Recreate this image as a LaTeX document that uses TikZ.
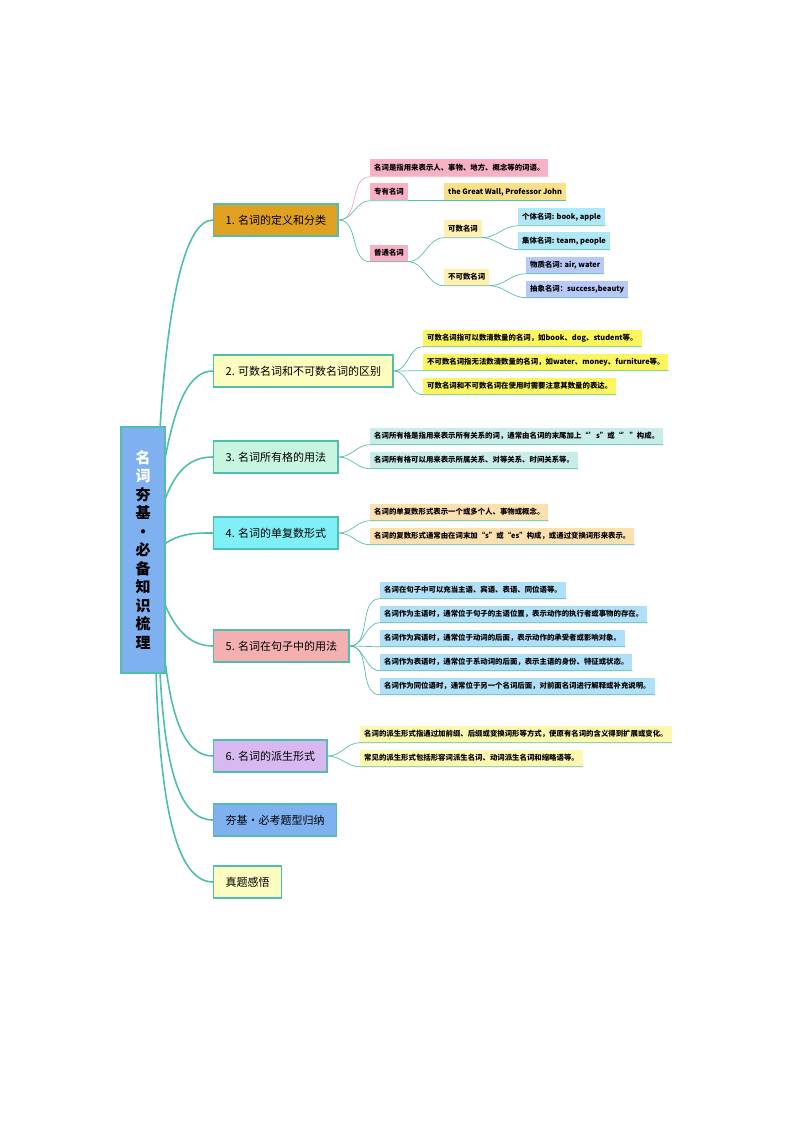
\documentclass[tikz,border=0pt]{standalone}
\usepackage{fontspec}
\setmainfont{Noto Sans CJK SC}
\begin{document}
\begin{tikzpicture}[x=1pt,y=-1pt,
 br/.style={line width=1.6pt, color={rgb,255:red,80;green,190;blue,175}},
 cn/.style={line width=0.7pt, color={rgb,255:red,90;green,190;blue,175}},
 pk/.style={line width=0.7pt, color={rgb,255:red,240;green,170;blue,190}},
 bn/.style={draw={rgb,255:red,80;green,190;blue,175}, line width=1.3pt, anchor=west, minimum height=32pt, inner xsep=12pt, font=\fontsize{11}{13}\selectfont},
 lf/.style={anchor=west, minimum height=17pt, inner xsep=4pt, inner ysep=1pt, font=\fontsize{7.4}{9}\selectfont\bfseries}]
\definecolor{c1}{RGB}{224,160,32}
\definecolor{c2}{RGB}{253,253,192}
\definecolor{c3}{RGB}{200,245,224}
\definecolor{c4}{RGB}{128,240,248}
\definecolor{c5}{RGB}{244,176,176}
\definecolor{c6}{RGB}{216,184,240}
\definecolor{c7}{RGB}{127,176,240}
\definecolor{lpink}{RGB}{246,178,196}
\definecolor{lgold}{RGB}{251,224,138}
\definecolor{lyel}{RGB}{255,240,176}
\definecolor{lblue}{RGB}{176,232,248}
\definecolor{lperi}{RGB}{184,200,248}
\definecolor{lyel2}{RGB}{251,245,96}
\definecolor{lteal}{RGB}{200,236,232}
\definecolor{lpeach}{RGB}{253,224,176}
\definecolor{lsky}{RGB}{176,224,248}
\definecolor{lyel3}{RGB}{253,248,176}
\useasboundingbox (0,0) rectangle (794,1123);
\fill[white] (0,0) rectangle (794,1123);
% branches
\node[bn, fill=c1] (b1) at (213,220) {1. 名词的定义和分类};
\node[bn, fill=c2] (b2) at (213,371) {2. 可数名词和不可数名词的区别};
\node[bn, fill=c3] (b3) at (213,457) {3. 名词所有格的用法};
\node[bn, fill=c4] (b4) at (213,533) {4. 名词的单复数形式};
\node[bn, fill=c5] (b5) at (213,646) {5. 名词在句子中的用法};
\node[bn, fill=c6] (b6) at (213,756) {6. 名词的派生形式};
\node[bn, fill=c7] (b7) at (213,820) {夯基•必考题型归纳};
\node[bn, fill=c2] (b8) at (213,882) {真题感悟};
\coordinate (s1) at (160,428);
\coordinate (s2) at (163,470);
\coordinate (s3) at (163,505);
\coordinate (s4) at (163,545);
\coordinate (s5) at (163,600);
\coordinate (s6) at (163,640);
\coordinate (s7) at (160,672);
\coordinate (s8) at (156,672);
\draw[br] (s1) .. controls (168,300) and (185,220) .. (b1.west);
\draw[br] (s2) .. controls (175,400) and (190,371) .. (b2.west);
\draw[br] (s3) .. controls (175,470) and (190,457) .. (b3.west);
\draw[br] (s4) .. controls (180,533) and (195,533) .. (b4.west);
\draw[br] (s5) .. controls (175,630) and (190,646) .. (b5.west);
\draw[br] (s6) .. controls (170,720) and (185,756) .. (b6.west);
\draw[br] (s7) .. controls (165,770) and (180,820) .. (b7.west);
\draw[br] (s8) .. controls (160,800) and (175,882) .. (b8.west);
% root
\node[draw={rgb,255:red,80;green,190;blue,175}, line width=1.5pt, fill=c7, minimum width=44pt, minimum height=246pt, align=center, font=\fontsize{15}{18.5}\selectfont\bfseries] (root) at (143,550)
 {\textcolor{white}{名}\\\textcolor{white}{词}\\夯\\基\\•\\必\\备\\知\\识\\梳\\理};
% branch 1
\node[lf, fill=lpink] (a1) at (370,168) {名词是指用来表示人、事物、地方、概念等的词语。};
\node[lf, fill=lpink] (a2) at (370,192) {专有名词};
\node[lf, fill=lgold] (a21) at (444,192) {the Great Wall, Professor John};
\node[lf, fill=lpink] (a3) at (370,253) {普通名词};
\node[lf, fill=lyel] (a31) at (444,229) {可数名词};
\node[lf, fill=lyel] (a32) at (444,277) {不可数名词};
\node[lf, fill=lblue] (a311) at (518,217) {个体名词: book, apple};
\node[lf, fill=lblue] (a312) at (518,241) {集体名词: team, people};
\node[lf, fill=lperi] (a321) at (526,265) {物质名词: air, water};
\node[lf, fill=lperi] (a322) at (526,289) {抽象名词：success,beauty};
\draw[pk] (b1.east) to[out=0,in=180] (a1.south west) -- (a1.south east);
\foreach \t in {a2,a3} \draw[cn] (b1.east) to[out=0,in=180] (\t.south west) -- (\t.south east);
\draw[cn] (a2.south east) -- (a21.south west) -- (a21.south east);
\foreach \t in {a31,a32} \draw[cn] (a3.south east) to[out=0,in=180] (\t.south west) -- (\t.south east);
\foreach \t in {a311,a312} \draw[cn] (a31.south east) to[out=0,in=180] (\t.south west) -- (\t.south east);
\foreach \t in {a321,a322} \draw[cn] (a32.south east) to[out=0,in=180] (\t.south west) -- (\t.south east);
% branch 2
\node[lf, fill=lyel2] (d1) at (423,338) {可数名词指可以数清数量的名词，如book、dog、student等。};
\node[lf, fill=lyel2] (d2) at (423,362) {不可数名词指无法数清数量的名词，如water、money、furniture等。};
\node[lf, fill=lyel2] (d3) at (423,386) {可数名词和不可数名词在使用时需要注意其数量的表达。};
\foreach \t in {d1,d2,d3} \draw[cn] (b2.east) to[out=0,in=180] (\t.south west) -- (\t.south east);
% branch 3
\node[lf, fill=lteal] (e1) at (370,436) {名词所有格是指用来表示所有关系的词，通常由名词的末尾加上“’s”或“’”构成。};
\node[lf, fill=lteal] (e2) at (370,460) {名词所有格可以用来表示所属关系、对等关系、时间关系等。};
\foreach \t in {e1,e2} \draw[cn] (b3.east) to[out=0,in=180] (\t.south west) -- (\t.south east);
% branch 4
\node[lf, fill=lpeach] (f1) at (370,512) {名词的单复数形式表示一个或多个人、事物或概念。};
\node[lf, fill=lpeach] (f2) at (370,536) {名词的复数形式通常由在词末加“s”或“es”构成，或通过变换词形来表示。};
\foreach \t in {f1,f2} \draw[cn] (b4.east) to[out=0,in=180] (\t.south west) -- (\t.south east);
% branch 5
\node[lf, fill=lsky] (g1) at (380,590) {名词在句子中可以充当主语、宾语、表语、同位语等。};
\node[lf, fill=lsky] (g2) at (380,614) {名词作为主语时，通常位于句子的主语位置，表示动作的执行者或事物的存在。};
\node[lf, fill=lsky] (g3) at (380,638) {名词作为宾语时，通常位于动词的后面，表示动作的承受者或影响对象。};
\node[lf, fill=lsky] (g4) at (380,662) {名词作为表语时，通常位于系动词的后面，表示主语的身份、特征或状态。};
\node[lf, fill=lsky] (g5) at (380,686) {名词作为同位语时，通常位于另一个名词后面，对前面名词进行解释或补充说明。};
\foreach \t in {g1,g2,g3,g4,g5} \draw[cn] (b5.east) to[out=0,in=180] (\t.south west) -- (\t.south east);
% branch 6
\node[lf, fill=lyel3] (h1) at (360,734) {名词的派生形式指通过加前缀、后缀或变换词形等方式，使原有名词的含义得到扩展或变化。};
\node[lf, fill=lyel3] (h2) at (360,758) {常见的派生形式包括形容词派生名词、动词派生名词和缩略语等。};
\foreach \t in {h1,h2} \draw[cn] (b6.east) to[out=0,in=180] (\t.south west) -- (\t.south east);
\end{tikzpicture}
\end{document}
